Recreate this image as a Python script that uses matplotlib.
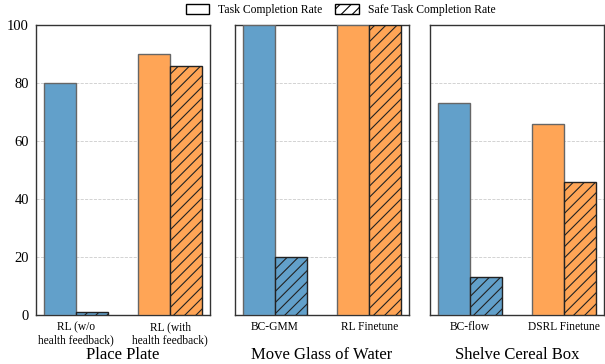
import matplotlib.pyplot as plt
import matplotlib.patches as mpatches
import numpy as np

plt.rcParams['font.family'] = ['Liberation Serif', 'DejaVu Serif']
plt.rcParams['hatch.linewidth'] = 0.8

# data
tasks = ['Place Plate', 'Move Glass of Water', 'Shelve Cereal Box']
methods = [
    ['RL (w/o\nhealth feedback)', 'RL (with\nhealth feedback)'],
    ['BC-GMM', 'RL Finetune'],
    ['BC-flow', 'DSRL Finetune'],
]
task_rate = [[80, 90], [100, 100], [73, 66]]
safe_rate = [[1, 86], [20, 100], [13, 46]]

colors = ['#62a0ca', '#ffa556']

fig = plt.figure(figsize=(6.05, 3.64), dpi=100)
lefts = [36 / 605, 235 / 605, 430 / 605]
w = 174 / 605
bottom = 49 / 364
h = 290 / 364

bw = 0.34
x = np.arange(2)
for i in range(3):
    ax = fig.add_axes([lefts[i], bottom, w, h])
    for j in range(2):
        ax.bar(x[j] - bw / 2, task_rate[i][j], bw, color=colors[j],
               edgecolor='#666666', linewidth=1, zorder=3)
        ax.bar(x[j] + bw / 2, safe_rate[i][j], bw, color=colors[j],
               edgecolor='#222222', linewidth=1, hatch='///', zorder=3)
    ax.set_ylim(0, 100)
    ax.set_xlim(-0.42, 1.42)
    ax.set_xticks(x)
    ax.set_xticklabels(methods[i], fontsize=8.3, linespacing=1.1)
    ax.set_yticks(np.arange(0, 101, 20))
    if i == 0:
        ax.set_yticklabels([str(v) for v in range(0, 101, 20)], fontsize=10.5)
    else:
        ax.set_yticklabels([])
    ax.tick_params(axis='x', length=0, pad=4.5)
    ax.tick_params(axis='y', length=0, pad=5)
    ax.grid(axis='y', linestyle='--', color='#cccccc', linewidth=0.6, zorder=0)
    for s in ax.spines.values():
        s.set_color('#333333')
        s.set_linewidth(1)
    cx = lefts[i] + w / 2
    fig.text(cx, 4.7 / 364, tasks[i], fontsize=12, ha='center', va='baseline')

handles = [
    mpatches.Patch(facecolor='white', edgecolor='black', label='Task Completion Rate'),
    mpatches.Patch(facecolor='white', edgecolor='black', hatch='///',
                   label='Safe Task Completion Rate'),
]
fig.legend(handles=handles, loc='center', bbox_to_anchor=(0.563, 0.972), ncol=2,
           frameon=False, fontsize=8.4, handlelength=2.0, handleheight=0.9,
           handletextpad=0.8, columnspacing=1.1, borderaxespad=0)

fig.savefig('out.png', dpi=100)
